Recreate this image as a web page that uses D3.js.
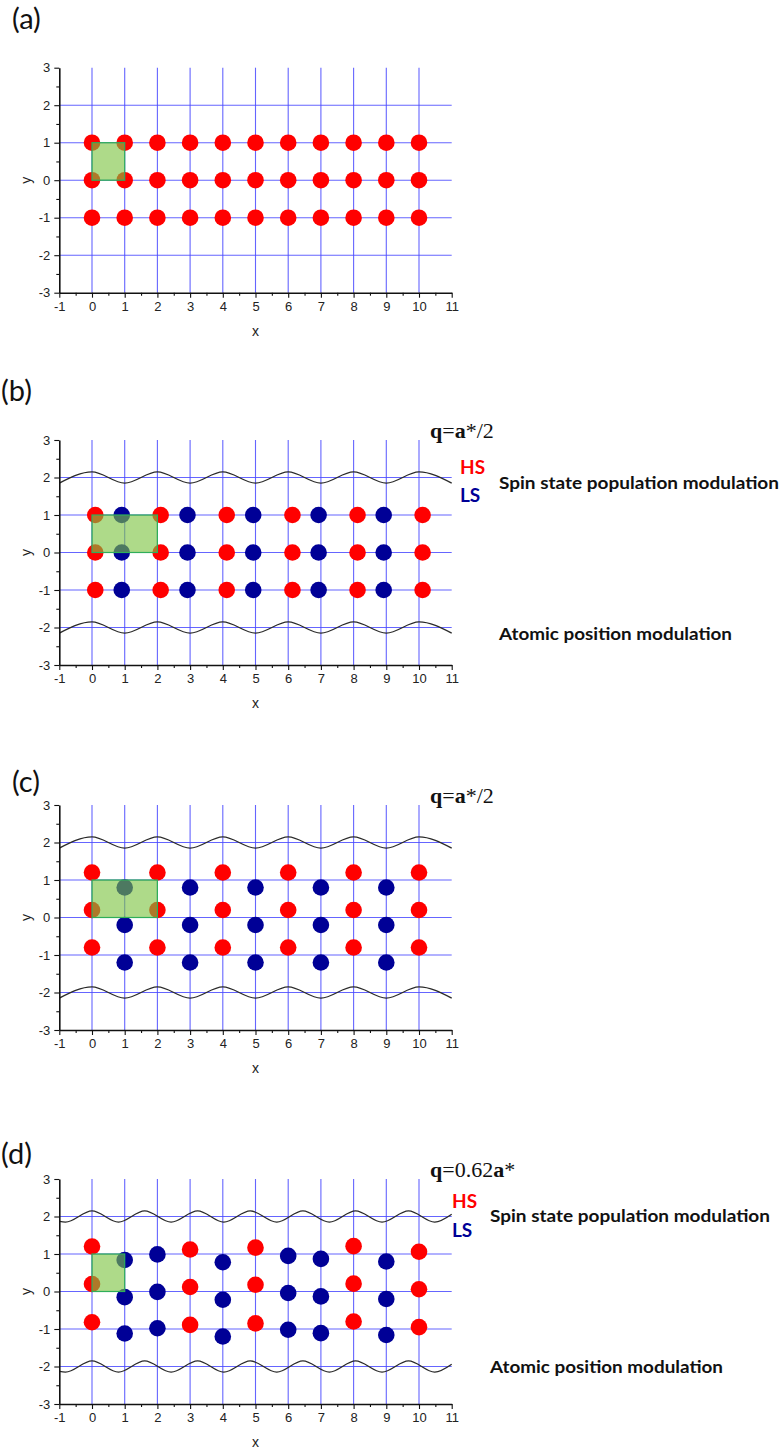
<!DOCTYPE html>
<html><head><meta charset="utf-8">
<script src="https://cdn.jsdelivr.net/npm/d3@7"></script>
<style>body{margin:0;background:#fff}svg{display:block}</style>
</head><body>
<script>
// ---------- data ----------
const xTicks = [-1,0,1,2,3,4,5,6,7,8,9,10,11];
const yTicks = [-3,-2,-1,0,1,2,3];
const xGrid = [0,1,2,3,4,5,6,7,8,9,10];
const yGrid = [-2,-1,0,1,2];
const panelLabels = ["(a)","(b)","(c)","(d)"];

// panel (a): all HS
const aHS = [];
[0,1,2,3,4,5,6,7,8,9,10].forEach(x => [1,0,-1].forEach(y => aHS.push([x,y])));
const aCell = [0,0,1,1]; // x0,y0,x1,y1

// panel (b)
const bHS = [[0.1,1],[0.1,0],[0.1,-1],[2.1,1],[2.1,0],[2.1,-1],[4.12,1],[4.12,0],[4.12,-1],
             [6.13,1],[6.13,0],[6.13,-1],[8.12,1],[8.12,0],[8.12,-1],[10.11,1],[10.11,0],[10.11,-1]];
const bLS = [[0.91,1],[0.91,0],[0.91,-1],[2.92,1],[2.92,0],[2.92,-1],[4.93,1],[4.93,0],[4.93,-1],
             [6.93,1],[6.93,0],[6.93,-1],[8.92,1],[8.92,0],[8.92,-1]];
const bCell = [0,0,2,1];
const waveTopBC = [[-1,1.85],[0,2.15],[1,1.85],[2,2.15],[3,1.85],[4,2.15],[5,1.85],[6,2.15],[7,1.85],[8,2.15],[9,1.85],[10,2.15],[11,1.85]];
const waveBotBC = [[-1,-2.15],[0,-1.85],[1,-2.15],[2,-1.85],[3,-2.15],[4,-1.85],[5,-2.15],[6,-1.85],[7,-2.15],[8,-1.85],[9,-2.15],[10,-1.85],[11,-2.15]];

// panel (c)
const cHS = [[0,1.2],[0,0.2],[0,-0.8],[2,1.2],[2,0.2],[2,-0.8],[4,1.2],[4,0.2],[4,-0.8],
             [6,1.2],[6,0.2],[6,-0.8],[8,1.2],[8,0.2],[8,-0.8],[10,1.2],[10,0.2],[10,-0.8]];
const cLS = [[1,0.8],[1,-0.2],[1,-1.2],[3,0.8],[3,-0.2],[3,-1.2],[5,0.8],[5,-0.2],[5,-1.2],
             [7,0.8],[7,-0.2],[7,-1.2],[9,0.8],[9,-0.2],[9,-1.2]];
const cCell = [0,0,2,1];

// panel (d)
const dHS = [[0,1.2],[0,0.2],[0,-0.82],[3,1.12],[3,0.12],[3,-0.89],[5,1.17],[5,0.18],[5,-0.85],
             [8,1.21],[8,0.21],[8,-0.8],[10,1.06],[10,0.06],[10,-0.95]];
const dLS = [[1,0.84],[1,-0.15],[1,-1.12],[2,0.99],[2,-0.01],[2,-0.98],[4,0.78],[4,-0.22],[4,-1.2],
             [6,0.95],[6,-0.04],[6,-1.02],[7,0.87],[7,-0.13],[7,-1.11],[9,0.8],[9,-0.2],[9,-1.16]];
const dCell = [0,0,1,1];
const waveTopD = [[-1,1.87],[-0.81,1.85],[0,2.15],[0.81,1.85],[1.61,2.15],[2.42,1.85],[3.23,2.15],[4.03,1.85],
                  [4.84,2.15],[5.65,1.85],[6.45,2.15],[7.26,1.85],[8.06,2.15],[8.87,1.85],[9.68,2.15],[10.48,1.85],[11,2.06]];
const waveBotD = [[-1,-2.13],[-0.81,-2.15],[0,-1.85],[0.81,-2.15],[1.61,-1.85],[2.42,-2.15],[3.23,-1.85],[4.03,-2.15],
                  [4.84,-1.85],[5.65,-2.15],[6.45,-1.85],[7.26,-2.15],[8.06,-1.85],[8.87,-2.15],[9.68,-1.85],[10.48,-2.15],[11,-1.94]];

const spinText = "Spin state population modulation";
const atomText = "Atomic position modulation";

// ---------- drawing ----------
const W = 783, H = 1450;
const svg = d3.select("body").append("svg").attr("width", W).attr("height", H);
const RED = "#ff0000", NAVY = "#000096";

const panels = [
  {label: panelLabels[0], lx: 12, ly: 29, top: 67.7, hs: aHS, ls: [], cell: aCell, waves: []},
  {label: panelLabels[1], lx: 1, ly: 401, top: 440, hs: bHS, ls: bLS, cell: bCell, waves: [waveTopBC, waveBotBC],
   q: [["q","bold"],["=","normal"],["a","bold"],["*/2","normal"]], qy: 438, legend: true},
  {label: panelLabels[2], lx: 12, ly: 792, top: 805, hs: cHS, ls: cLS, cell: cCell, waves: [waveTopBC, waveBotBC],
   q: [["q","bold"],["=","normal"],["a","bold"],["*/2","normal"]], qy: 803, legend: false},
  {label: panelLabels[3], lx: 1, ly: 1164, top: 1179, hs: dHS, ls: dLS, cell: dCell, waves: [waveTopD, waveBotD],
   q: [["q","bold"],["=0.62","normal"],["a","bold"],["*","normal"]], qy: 1177, legend: true}
];

panels.forEach((p, i) => {
  const g = svg.append("g");
  const x = d3.scaleLinear().domain([-1, 11]).range([59.3, 451.7]);
  const y = d3.scaleLinear().domain([-3, 3]).range([p.top + 225, p.top]);

  // panel label
  svg.append("text").attr("x", p.lx).attr("y", p.ly)
    .attr("font-family", "Lato, 'Open Sans', sans-serif").attr("font-size", 29)
    .attr("fill", "#111").text(p.label);

  // grid
  g.selectAll(".vg").data(xGrid).join("line")
    .attr("x1", d => x(d)).attr("x2", d => x(d)).attr("y1", y(3)).attr("y2", y(-3))
    .attr("stroke", "#4a4aff").attr("stroke-opacity", 0.85).attr("stroke-width", 1.1);
  g.selectAll(".hg").data(yGrid).join("line")
    .attr("x1", x(-1)).attr("x2", x(11)).attr("y1", d => y(d)).attr("y2", d => y(d))
    .attr("stroke", "#4a4aff").attr("stroke-opacity", 0.85).attr("stroke-width", 1.1);

  // waves
  const line = d3.line().x(d => x(d[0])).y(d => y(d[1])).curve(d3.curveMonotoneX);
  p.waves.forEach(w => {
    g.append("path").datum(w).attr("d", line).attr("fill", "none")
      .attr("stroke", "#2a2a2a").attr("stroke-width", 1.3);
  });

  // atoms
  const r = 8.3;
  g.selectAll(".hs").data(p.hs).join("circle")
    .attr("cx", d => x(d[0])).attr("cy", d => y(d[1])).attr("r", r).attr("fill", RED);
  g.selectAll(".ls").data(p.ls).join("circle")
    .attr("cx", d => x(d[0])).attr("cy", d => y(d[1])).attr("r", r).attr("fill", NAVY);

  // unit cell
  const c = p.cell;
  g.append("rect").attr("x", x(c[0])).attr("y", y(c[3]))
    .attr("width", x(c[2]) - x(c[0])).attr("height", y(c[1]) - y(c[3]))
    .attr("fill", "rgb(125,195,65)").attr("fill-opacity", 0.62)
    .attr("stroke", "#2fae5a").attr("stroke-width", 1.2);

  // axes
  const fontAx = "Liberation Sans, Arial, sans-serif";
  const fmt = d => String(d);
  const minorX = d3.range(-0.5, 11, 1), minorY = d3.range(-2.5, 3, 1);
  g.append("g").attr("transform", `translate(0,${y(-3)})`)
    .call(d3.axisBottom(x).tickValues(xTicks).tickSize(5).tickSizeOuter(0).tickPadding(4).tickFormat(fmt));
  g.append("g").attr("transform", `translate(0,${y(-3)})`)
    .call(d3.axisBottom(x).tickValues(minorX).tickSize(3).tickSizeOuter(0).tickFormat(""))
    .call(s => s.select(".domain").remove());
  g.append("g").attr("transform", `translate(${x(-1)},0)`)
    .call(d3.axisLeft(y).tickValues(yTicks).tickSize(5).tickSizeOuter(0).tickPadding(4).tickFormat(fmt));
  g.append("g").attr("transform", `translate(${x(-1)},0)`)
    .call(d3.axisLeft(y).tickValues(minorY).tickSize(3).tickSizeOuter(0).tickFormat(""))
    .call(s => s.select(".domain").remove());
  g.selectAll(".domain").attr("stroke", "#111").attr("stroke-width", 1.6);
  g.selectAll(".tick line").attr("stroke", "#111").attr("stroke-width", 1.1);
  g.selectAll(".tick text").attr("font-family", fontAx).attr("font-size", 13).attr("fill", "#222");

  // axis titles
  g.append("text").attr("x", x(5)).attr("y", y(-3) + 43).attr("text-anchor", "middle")
    .attr("font-family", fontAx).attr("font-size", 14).attr("fill", "#222").text("x");
  g.append("text").attr("transform", `translate(31,${y(0)}) rotate(-90)`).attr("text-anchor", "middle")
    .attr("font-family", fontAx).attr("font-size", 14).attr("fill", "#222").text("y");

  // annotations
  if (p.q) {
    const t = svg.append("text").attr("x", 430).attr("y", p.qy)
      .attr("font-family", "'Liberation Serif', 'Times New Roman', serif").attr("font-size", 22).attr("fill", "#111");
    p.q.forEach(s => t.append("tspan").attr("font-weight", s[1]).text(s[0]));
  }
  if (p.legend) {
    const isB = i === 1;
    const hx = isB ? 460 : 452, hy = isB ? 474 : 1208, lsy = isB ? 502 : 1237;
    const sx = isB ? 499 : 490, sy = isB ? 489 : 1222, ay2 = isB ? 640 : 1373;
    const ff = "Lato, 'Open Sans', sans-serif";
    svg.append("text").attr("x", hx).attr("y", hy).attr("font-family", ff).attr("font-weight", "bold")
      .attr("font-size", 19).attr("fill", RED).text("HS");
    svg.append("text").attr("x", hx).attr("y", lsy).attr("font-family", ff).attr("font-weight", "bold")
      .attr("font-size", 19).attr("fill", NAVY).text("LS");
    svg.append("text").attr("x", sx).attr("y", sy).attr("font-family", ff).attr("font-weight", "bold")
      .attr("font-size", 17).attr("fill", "#111").attr("textLength", 280).attr("lengthAdjust", "spacingAndGlyphs").text(spinText);
    svg.append("text").attr("x", sx).attr("y", ay2).attr("font-family", ff).attr("font-weight", "bold")
      .attr("font-size", 17).attr("fill", "#111").attr("textLength", 233).attr("lengthAdjust", "spacingAndGlyphs").text(atomText);
  }
});
</script>
</body></html>
